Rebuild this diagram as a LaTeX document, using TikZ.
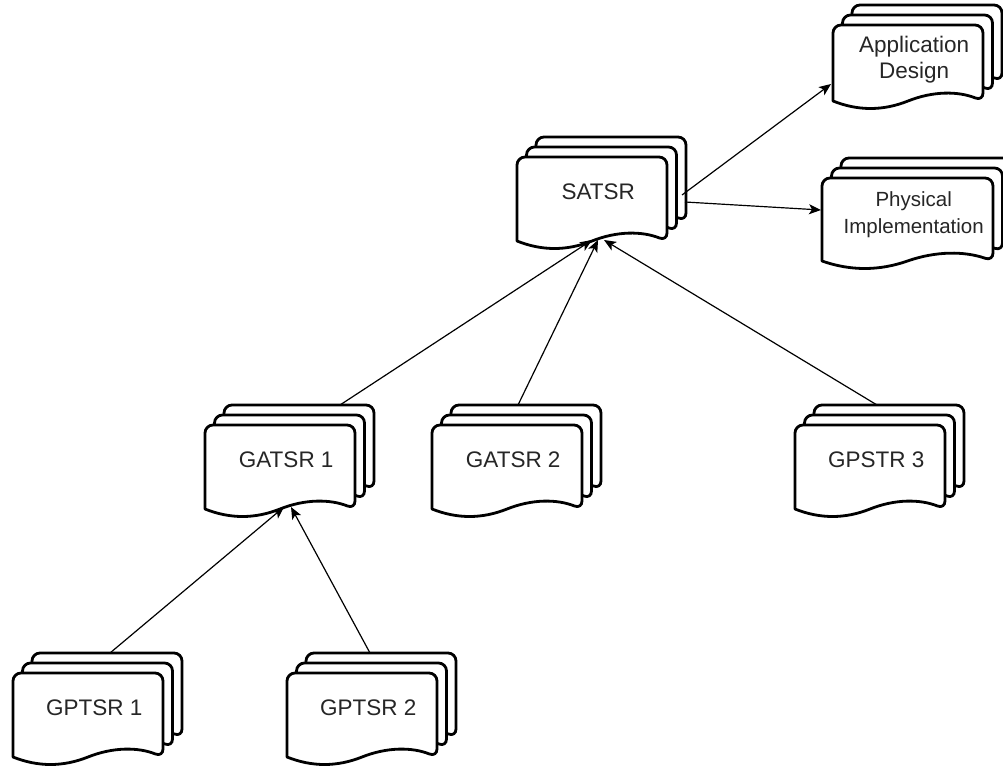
\documentclass[tikz,border=0pt]{standalone}
\usepackage{fontspec}
\setmainfont{Liberation Sans}
\usetikzlibrary{calc,arrows.meta,backgrounds}

\tikzset{
  x=1pt, y=-1pt,
  sheet/.style={draw=black, line width=2.8pt, fill=white, line join=round},
  doclabel/.style={anchor=north west, inner sep=0pt, align=center,
    font=\fontsize{22.5}{26}\selectfont, text=black!85},
  link/.style={draw=black, line width=1.2pt,
    -{Stealth[length=12pt,width=10pt,inset=3pt]}},
}

% three stacked sheets with rounded top corners and a wavy lower edge,
% drawn behind the named text node whose north west corner is the front sheet's corner
\newcommand\sheetstack[3]{% node name, sheet width, height to the ends of the wavy edge
  \begin{scope}[on background layer]
    \foreach \k in {2,1,0}{
      \path[sheet, shift={($(#1.north west)+(9.5*\k,-10*\k)$)}]
        (0,#3) [rounded corners=8pt] -- (0,0) -- (#2,0) -- (#2,#3) [sharp corners]
        .. controls ({0.833*#2},{#3-10}) and ({0.667*#2},{#3-10}) .. ({0.5*#2},#3)
        .. controls ({0.333*#2},{#3+10}) and ({0.167*#2},{#3+10}) .. (0,#3) -- cycle;
    }
  \end{scope}}

\begin{document}
\begin{tikzpicture}
\useasboundingbox (0,0) rectangle (1003,765);

% documents
\node[doclabel, minimum width=162pt, minimum height=69pt] (appdes) at (833,25) {Application\\Design};
\node[doclabel, minimum width=183pt, minimum height=72pt,
      font=\fontsize{20.5}{27}\selectfont] (phys) at (822,178) {Physical\\Implementation};
\node[doclabel, minimum width=162pt, minimum height=70pt] (satsr) at (517,157) {SATSR};
\node[doclabel, minimum width=162pt, minimum height=70pt] (gatsr1) at (205,425) {GATSR 1};
\node[doclabel, minimum width=162pt, minimum height=70pt] (gatsr2) at (432,425) {GATSR 2};
\node[doclabel, minimum width=162pt, minimum height=70pt] (gpstr3) at (795,425) {GPSTR 3};
\node[doclabel, minimum width=162pt, minimum height=70pt] (gptsr1) at (13,673) {GPTSR 1};
\node[doclabel, minimum width=162pt, minimum height=70pt] (gptsr2) at (287,673) {GPTSR 2};

\sheetstack{appdes}{150}{76}
\sheetstack{phys}{171}{83}
\sheetstack{satsr}{150}{84}
\sheetstack{gatsr1}{150}{84}
\sheetstack{gatsr2}{150}{84}
\sheetstack{gpstr3}{150}{84}
\sheetstack{gptsr1}{150}{84}
\sheetstack{gptsr2}{150}{84}

% connectors
\draw[link] ([shift={(97,-20)}]gptsr1.north west) -- ([shift={(79,82)}]gatsr1.north west);
\draw[link] ([shift={(83,-20)}]gptsr2.north west) -- ([shift={(86,82)}]gatsr1.north west);
\draw[link] ([shift={(135,-20)}]gatsr1.north west) -- ([shift={(75,83)}]satsr.north west);
\draw[link] ([shift={(86,-20)}]gatsr2.north west) -- ([shift={(81,83)}]satsr.north west);
\draw[link] ([shift={(82,-20)}]gpstr3.north west) -- ([shift={(87,83)}]satsr.north west);
\draw[link] ([shift={(165,38)}]satsr.north west) -- ([shift={(-2,59)}]appdes.north west);
\draw[link] ([shift={(168,45)}]satsr.north west) -- ([shift={(-1,32)}]phys.north west);
\end{tikzpicture}
\end{document}
